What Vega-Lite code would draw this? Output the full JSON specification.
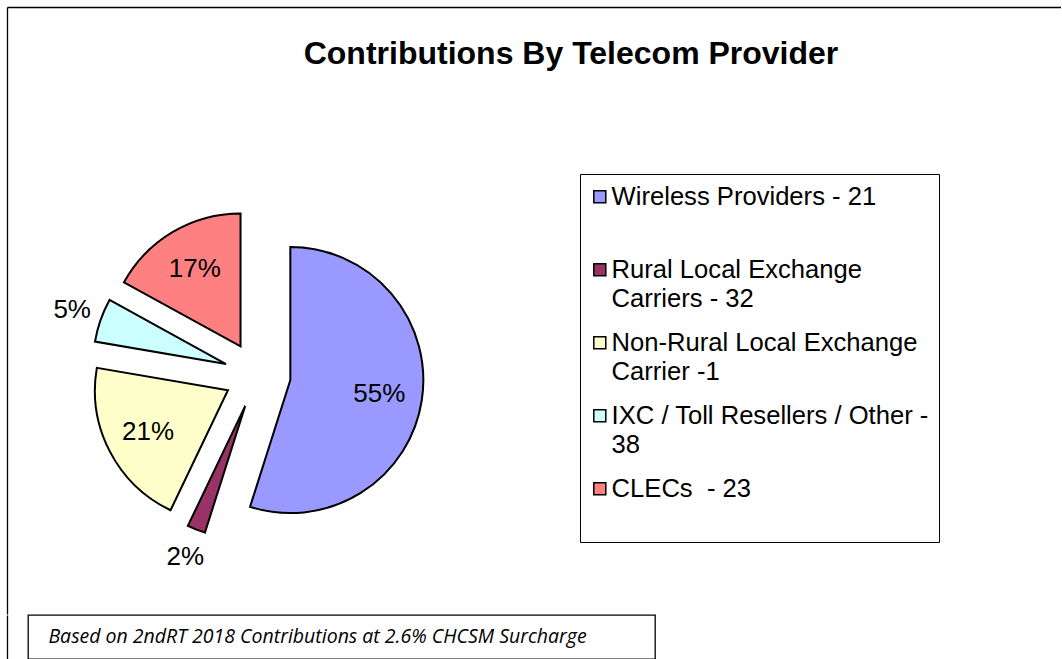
{
  "$schema": "https://vega.github.io/schema/vega-lite/v6.json",
  "background": "white",
  "padding": {"left": 7, "top": 7, "right": 0, "bottom": 0},
  "spacing": 0,
  "config": {
    "view": {"stroke": null},
    "font": "Liberation Sans",
    "concat": {"spacing": 0},
    "axis": {"labels": false, "ticks": false, "grid": false, "domain": true, "domainColor": "black", "domainWidth": 1.3}
  },
  "vconcat": [
    {
      "width": 1054,
      "height": 607,
      "title": {"text": "Contributions By Telecom Provider", "font": "Liberation Sans", "fontSize": 32, "fontWeight": "bold", "color": "black", "anchor": "middle", "frame": "group", "dx": 37, "offset": -89, "baseline": "alphabetic"},
      "data": {"values": [
        {"provider": "Wireless Providers - 21", "share": 0.549},
        {"provider": "Rural Local Exchange Carriers - 32", "share": 0.022},
        {"provider": "Non-Rural Local Exchange Carrier -1", "share": 0.206},
        {"provider": "IXC / Toll Resellers / Other - 38", "share": 0.053},
        {"provider": "CLECs  - 23", "share": 0.170}
      ]},
      "transform": [
        {"window": [{"op": "sum", "field": "share", "as": "end"}], "frame": [null, 0]},
        {"calculate": "datum.end - datum.share", "as": "start"},
        {"calculate": "datum.end - datum.share / 2", "as": "mid"},
        {"calculate": "0.25 * sin(2 * PI * datum.mid)", "as": "ux"},
        {"calculate": "0.25 * cos(2 * PI * datum.mid)", "as": "uy"}
      ],
      "encoding": {
        "x": {"field": "ux", "type": "quantitative", "scale": {"domain": [-1.883, 6.041], "nice": false, "zero": false}, "axis": {"orient": "top", "title": null}},
        "y": {"field": "uy", "type": "quantitative", "scale": {"domain": [-1.797, 2.767], "nice": false, "zero": false}, "axis": {"orient": "left", "title": null}}
      },
      "layer": [
        {
          "mark": {"type": "arc", "outerRadius": 133, "stroke": "black", "strokeWidth": 2},
          "encoding": {
            "theta": {"field": "start", "type": "quantitative", "stack": null, "scale": {"domain": [0, 1], "range": [0, 6.283185307179586]}},
            "theta2": {"field": "end"},
            "color": {
              "field": "provider", "type": "nominal",
              "scale": {
                "domain": ["Wireless Providers - 21", "Rural Local Exchange Carriers - 32", "Non-Rural Local Exchange Carrier -1", "IXC / Toll Resellers / Other - 38", "CLECs  - 23"],
                "range": ["#9999FF", "#993366", "#FFFFCC", "#CCFFFF", "#FF8080"]
              },
              "legend": {
                "orient": "none", "legendX": 573, "legendY": 167,
                "title": null,
                "strokeColor": "black", "fillColor": "white",
                "padding": 10,
                "symbolType": "square", "symbolSize": 144, "symbolStrokeColor": "black", "symbolStrokeWidth": 1.5, "symbolOffset": -3,
                "labelOffset": -1, "labelFont": "Liberation Sans", "labelFontSize": 25.6, "labelColor": "black", "labelLimit": 600, "labelBaseline": "middle",
                "rowPadding": 17, "gridAlign": "all",
                "labelExpr": "datum.label == 'Rural Local Exchange Carriers - 32' ? ['Rural Local Exchange', 'Carriers - 32'] : datum.label == 'Non-Rural Local Exchange Carrier -1' ? ['Non-Rural Local Exchange', 'Carrier -1'] : datum.label == 'IXC / Toll Resellers / Other - 38' ? ['IXC / Toll Resellers / Other -\u00a0', '38'] : datum.label == 'CLECs  - 23' ? ['CLECs \u00a0- 23', ' '] : datum.label",
                "encode": {"labels": {"update": {"lineHeight": {"value": 29}}}}
              }
            }
          }
        },
        {
          "transform": [{"filter": "datum.share >= 0.1"}],
          "mark": {"type": "text", "radius": 90, "font": "Liberation Sans", "fontSize": 26, "color": "black", "align": "center", "baseline": "middle"},
          "encoding": {
            "theta": {"field": "mid", "type": "quantitative", "stack": null, "scale": {"domain": [0, 1], "range": [0, 6.283185307179586]}},
            "text": {"field": "share", "format": ".0%"}
          }
        },
        {
          "transform": [{"filter": "datum.share < 0.1"}],
          "mark": {"type": "text", "radius": 163, "font": "Liberation Sans", "fontSize": 26, "color": "black", "align": "center", "baseline": "middle"},
          "encoding": {
            "theta": {"field": "mid", "type": "quantitative", "stack": null, "scale": {"domain": [0, 1], "range": [0, 6.283185307179586]}},
            "text": {"field": "share", "format": ".0%"}
          }
        }
      ]
    },
    {
      "hconcat": [
        {
          "width": 20,
          "height": 44,
          "data": {"values": [{"note": ""}]},
          "mark": {"type": "text"},
          "encoding": {
            "y": {"field": "note", "type": "nominal", "axis": {"orient": "left", "title": null}},
            "text": {"field": "note"}
          }
        },
        {
          "width": 627,
          "height": 44,
          "view": {"stroke": "black", "strokeWidth": 1.3},
          "data": {"values": [{"note": "Based on 2ndRT 2018 Contributions at 2.6% CHCSM Surcharge"}]},
          "mark": {"type": "text", "font": "Open Sans", "fontStyle": "italic", "fontSize": 19.5, "color": "black", "dx": -24, "align": "center", "baseline": "middle"},
          "encoding": {"text": {"field": "note"}}
        }
      ]
    }
  ]
}
